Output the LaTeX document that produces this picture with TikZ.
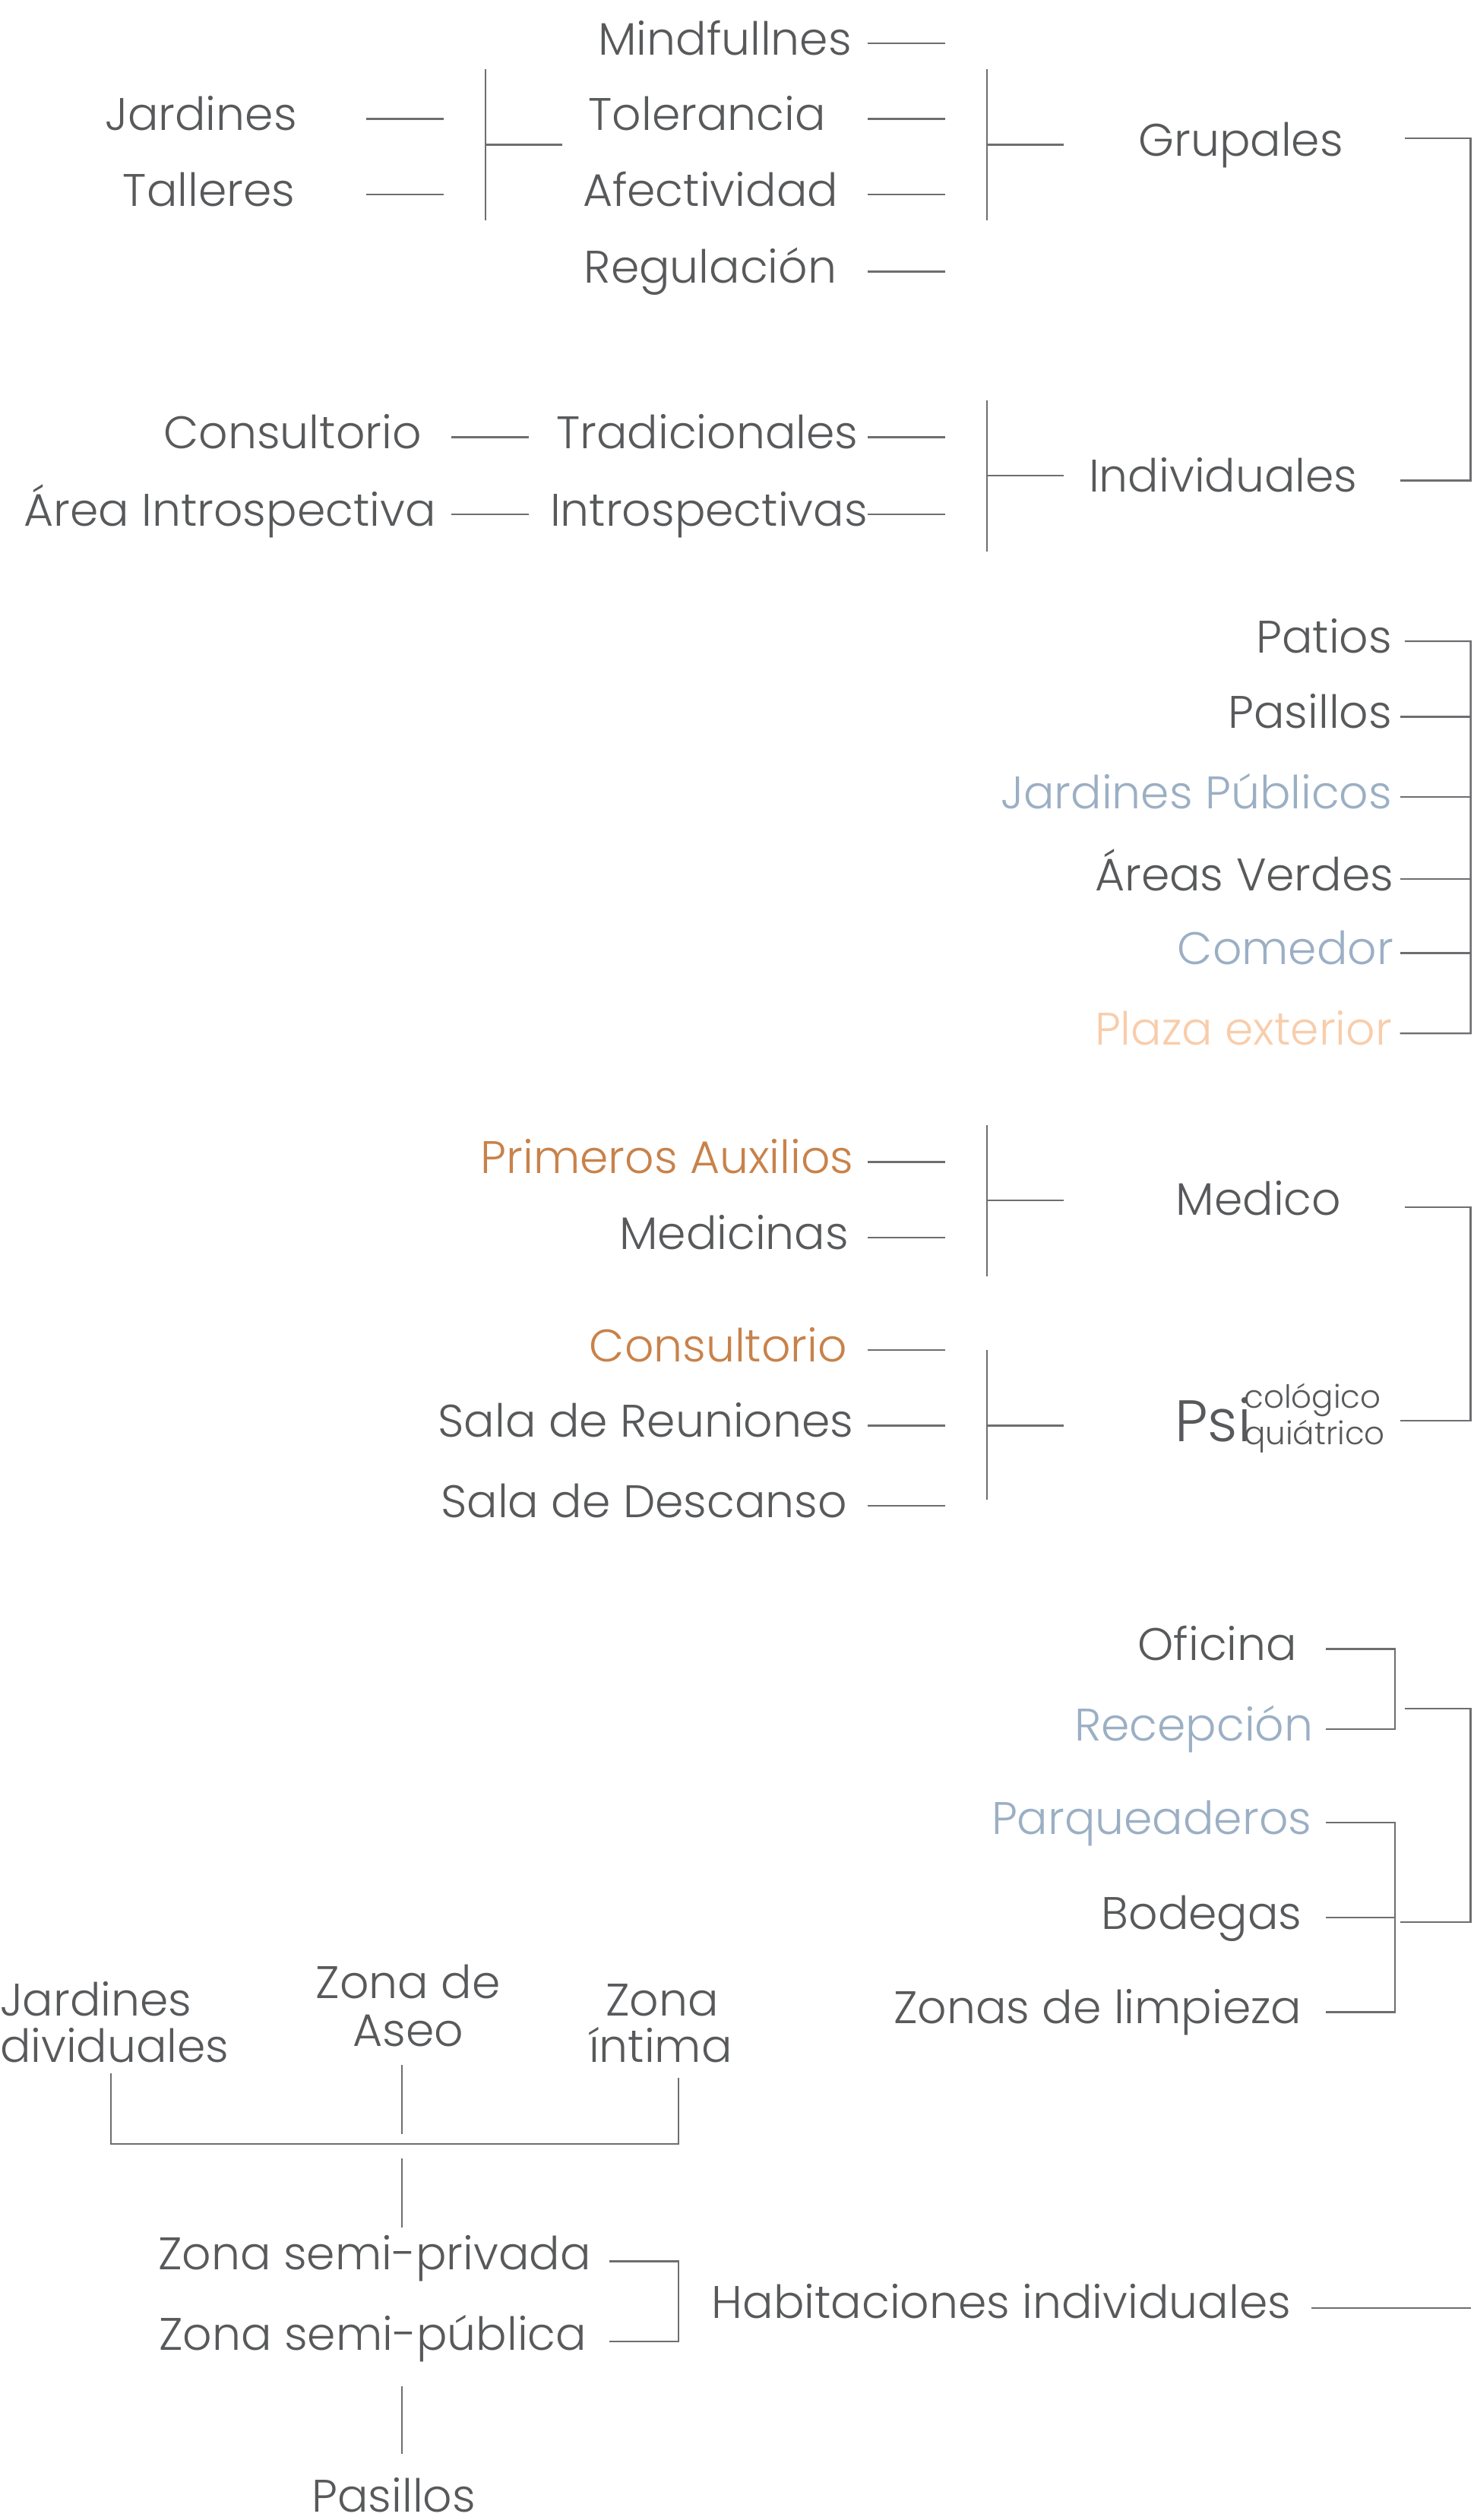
\documentclass[tikz,border=0pt]{standalone}
\usepackage{fontspec}
\usetikzlibrary{calc}
\IfFontExistsTF{Poppins Light}{\setmainfont{Poppins Light}}{\setmainfont{Poppins}}
\definecolor{tgray}{HTML}{58595B}
\definecolor{lgray}{HTML}{6D6E71}
\definecolor{tblue}{HTML}{9BAFC4}
\definecolor{torange}{HTML}{C8824A}
\definecolor{tpeach}{HTML}{F8CDAB}
\newcommand\mainsz{\fontsize{60}{62}\selectfont}
\newcommand\bigsz{\fontsize{77}{79}\selectfont}
\newcommand\smallsz{\fontsize{42}{44}\selectfont}
\begin{document}
\begin{tikzpicture}[x=2.1145pt, y=-2.1145pt,
  lbl/.style={inner sep=0pt, outer sep=0pt, font=\mainsz, text=tgray, yshift=-12.7pt},
  ln/.style={draw=lgray, line width=2.3pt}]
\useasboundingbox (0,0) rectangle (917,1568);
% column x coordinates
\coordinate (xa) at (540,0);
\coordinate (xb) at (588,0);
\coordinate (xl1) at (228,0);
\coordinate (xl2) at (276,0);
\coordinate (xm1) at (281,0);
\coordinate (xm2) at (329,0);
\coordinate (xr1) at (871,0);
\coordinate (xr2) at (915,0);
\coordinate (xo1) at (825,0);
\coordinate (xo2) at (868,0);
\coordinate (up) at (0,-6);

% ---------- top section ----------
\node[lbl, anchor=mid] (mind) at (451,27) {Mindfullnes};
\node[lbl, anchor=mid] (tol) at (440,74) {Tolerancia};
\node[lbl, anchor=mid] (afec) at (442,121) {Afectividad};
\node[lbl, anchor=mid] (reg) at (442,169) {Regulación};
\node[lbl, anchor=mid] (jard) at (125,74) {Jardines};
\node[lbl, anchor=mid] (tall) at (130,121) {Talleres};
\node[lbl, anchor=mid] (grup) at (772,90) {Grupales};
\node[lbl, anchor=mid] (indiv) at (761,299) {Individuales};
\node[lbl, anchor=mid] (cons1) at (182,272) {Consultorio};
\node[lbl, anchor=mid] (area) at (143,320) {Área Introspectiva};
\node[lbl, anchor=mid] (trad) at (440,272) {Tradicionales};
\node[lbl, anchor=mid] (intro) at (441,320) {Introspectivas};

\foreach \n in {mind,tol,afec,reg,trad,intro}
  \draw[ln] ($(\n.mid -| xa)+(up)$) -- ($(\n.mid -| xb)+(up)$);
\foreach \n in {jard,tall}
  \draw[ln] ($(\n.mid -| xl1)+(up)$) -- ($(\n.mid -| xl2)+(up)$);
\foreach \n in {cons1,area}
  \draw[ln] ($(\n.mid -| xm1)+(up)$) -- ($(\n.mid -| xm2)+(up)$);

\coordinate (b1t) at (302,43); \coordinate (b1b) at (302,137);
\coordinate (b1m) at (302,90); \coordinate (b1e) at (350,90);
\draw[ln] (b1t) -- (b1b); \draw[ln] (b1m) -- (b1e);
\coordinate (b2t) at (614,43); \coordinate (b2b) at (614,137);
\coordinate (b2m) at (614,90); \coordinate (b2e) at (662,90);
\draw[ln] (b2t) -- (b2b); \draw[ln] (b2m) -- (b2e);
\coordinate (b3t) at (614,249); \coordinate (b3b) at (614,343);
\coordinate (b3m) at (614,296); \coordinate (b3e) at (662,296);
\draw[ln] (b3t) -- (b3b); \draw[ln] (b3m) -- (b3e);
\coordinate (gb1) at (874,86); \coordinate (gb2) at (915,86);
\coordinate (gb3) at (915,299); \coordinate (gb4) at (871,299);
\draw[ln] (gb1) -- (gb2) -- (gb3) -- (gb4);

% ---------- patios section ----------
\node[lbl, anchor=mid east] (pat) at (866,399) {Patios};
\node[lbl, anchor=mid east] (pas) at (866,446) {Pasillos};
\node[lbl, anchor=mid east, text=tblue] (jpub) at (866,496) {Jardines Públicos};
\node[lbl, anchor=mid east] (aver) at (867,547) {Áreas Verdes};
\node[lbl, anchor=mid east, text=tblue] (com) at (867,593) {Comedor};
\node[lbl, anchor=mid east, text=tpeach] (plaza) at (866,643) {Plaza exterior};
\coordinate (pt1) at (874,399);
\draw[ln] (pt1) -- ($(pat.mid -| xr2)+(up)$) -- ($(plaza.mid -| xr2)+(up)$) -- ($(plaza.mid -| xr1)+(up)$);
\foreach \n in {pas,jpub,aver,com}
  \draw[ln] ($(\n.mid -| xr1)+(up)$) -- ($(\n.mid -| xr2)+(up)$);

% ---------- medico section ----------
\node[lbl, anchor=mid east, text=torange] (paux) at (531,723) {Primeros Auxilios};
\node[lbl, anchor=mid east] (medi) at (528,770) {Medicinas};
\node[lbl, anchor=mid east, text=torange] (cons2) at (527,840) {Consultorio};
\node[lbl, anchor=mid east] (sreu) at (531,887) {Sala de Reuniones};
\node[lbl, anchor=mid east] (sdes) at (527,937) {Sala de Descanso};
\foreach \n in {paux,medi,cons2,sreu,sdes}
  \draw[ln] ($(\n.mid -| xa)+(up)$) -- ($(\n.mid -| xb)+(up)$);
\coordinate (b4t) at (614,700); \coordinate (b4b) at (614,794);
\coordinate (b4m) at (614,747); \coordinate (b4e) at (662,747);
\draw[ln] (b4t) -- (b4b); \draw[ln] (b4m) -- (b4e);
\coordinate (b5t) at (614,840); \coordinate (b5b) at (614,933);
\coordinate (b5m) at (614,887); \coordinate (b5e) at (662,887);
\draw[ln] (b5t) -- (b5b); \draw[ln] (b5m) -- (b5e);
\node[lbl, anchor=mid] (medico) at (783,749) {Medico};
% (lbl shifts every label 6 units down, so these base positions are 6 units higher)
\node[lbl, anchor=base west, font=\bigsz] (psi) at (731,891) {Psi};
\node[lbl, anchor=base west, font=\smallsz] (psic) at (774,870) {cológico};
\node[lbl, anchor=base west, font=\smallsz] (psiq) at (774,893) {quiátrico};
\coordinate (mb1) at (874,751); \coordinate (mb2) at (915,751);
\coordinate (mb3) at (915,884); \coordinate (mb4) at (871,884);
\draw[ln] (mb1) -- (mb2) -- (mb3) -- (mb4);

% ---------- oficina section ----------
\node[lbl, anchor=mid east] (ofi) at (807,1026) {Oficina};
\node[lbl, anchor=mid east, text=tblue] (rec) at (817,1076) {Recepción};
\node[lbl, anchor=mid east, text=tblue] (parq) at (816,1134) {Parqueaderos};
\node[lbl, anchor=mid east] (bod) at (810,1193) {Bodegas};
\node[lbl, anchor=mid east] (zlim) at (810,1252) {Zonas de limpieza};
\draw[ln] ($(ofi.mid -| xo1)+(up)$) -- ($(ofi.mid -| xo2)+(up)$) -- ($(rec.mid -| xo2)+(up)$) -- ($(rec.mid -| xo1)+(up)$);
\draw[ln] ($(parq.mid -| xo1)+(up)$) -- ($(parq.mid -| xo2)+(up)$) -- ($(zlim.mid -| xo2)+(up)$) -- ($(zlim.mid -| xo1)+(up)$);
\draw[ln] ($(bod.mid -| xo1)+(up)$) -- ($(bod.mid -| xo2)+(up)$);
\coordinate (ob1) at (874,1063); \coordinate (ob2) at (915,1063);
\coordinate (ob3) at (915,1196); \coordinate (ob4) at (871,1196);
\draw[ln] (ob1) -- (ob2) -- (ob3) -- (ob4);

% ---------- bottom section ----------
\node[lbl, anchor=mid west] (jd1) at (0,1247) {Jardines};
\node[lbl, anchor=mid west] (jd2) at (0,1276) {dividuales};
\node[lbl, anchor=mid] (za1) at (254,1236) {Zona de};
\node[lbl, anchor=mid] (za2) at (254,1266) {Aseo};
\node[lbl, anchor=mid] (zi1) at (412,1247) {Zona};
\node[lbl, anchor=mid] (zi2) at (411,1276) {íntima};
\coordinate (v1t) at (69,1290); \coordinate (v1b) at (69,1334);
\coordinate (v2t) at (250,1285); \coordinate (v2b) at (250,1328);
\coordinate (v3t) at (422,1293); \coordinate (v3b) at (422,1334);
\draw[ln] (v1t) -- (v1b) -- (v3b) -- (v3t);
\draw[ln] (v2t) -- (v2b);
\coordinate (v4t) at (250,1343); \coordinate (v4b) at (250,1386);
\draw[ln] (v4t) -- (v4b);
\node[lbl, anchor=mid] (zsp) at (233,1405) {Zona semi-privada};
\node[lbl, anchor=mid] (zspu) at (232,1455) {Zona semi-pública};
\coordinate (zx1) at (379,0); \coordinate (zx2) at (422,0);
\coordinate (zy1) at (0,1407); \coordinate (zy2) at (0,1457);
\draw[ln] (zx1 |- zy1) -- (zx2 |- zy1) -- (zx2 |- zy2) -- (zx1 |- zy2);
\node[lbl, anchor=mid] (hab) at (623,1435) {Habitaciones individuales};
\coordinate (hx1) at (816,1436); \coordinate (hx2) at (915,1436);
\draw[ln] (hx1) -- (hx2);
\coordinate (v5t) at (250,1485); \coordinate (v5b) at (250,1527);
\draw[ln] (v5t) -- (v5b);
\node[lbl, anchor=base] (pas2) at (245,1557) {Pasillos};
\end{tikzpicture}
\end{document}
